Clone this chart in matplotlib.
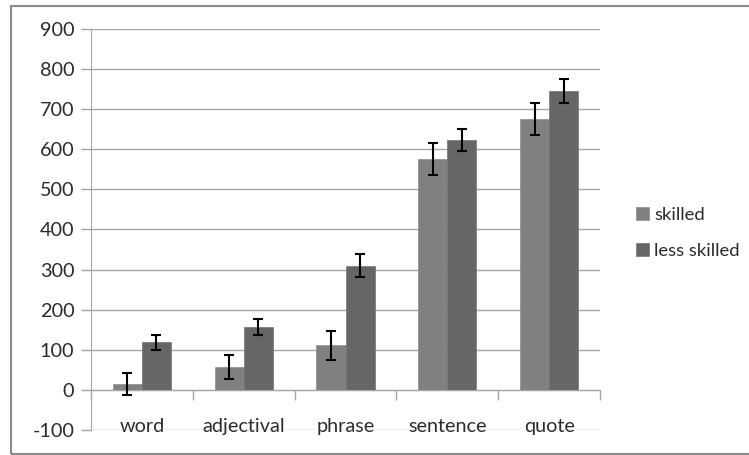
import matplotlib.pyplot as plt
import numpy as np
from matplotlib.patches import Rectangle

categories = ['word', 'adjectival', 'phrase', 'sentence', 'quote']
skilled = [15, 57, 111, 576, 675]
skilled_err = [27, 29, 37, 39, 40]
less_skilled = [119, 157, 310, 623, 746]
less_skilled_err = [19, 19, 29, 27, 30]

plt.rcParams['font.family'] = ['Lato', 'DejaVu Sans']
plt.rcParams['axes.unicode_minus'] = False

fig = plt.figure(figsize=(7.49, 4.55), dpi=100)
ax = fig.add_axes([91 / 749, 25 / 455, 509 / 749, 401 / 455])

x = np.arange(len(categories)) + 0.5
w = 0.285
grey = '#a6a6a6'
txt = '#2b2b2b'
ax.bar(x - w / 2, skilled, w, color='#808080', edgecolor='#8c8c8c',
       linewidth=0.5, label='skilled', zorder=2)
ax.bar(x + w / 2, less_skilled, w, color='#666666', edgecolor='#737373',
       linewidth=0.5, label='less skilled', zorder=2)
ax.errorbar(x - w / 2, skilled, yerr=skilled_err, fmt='none', ecolor='black',
            elinewidth=1.5, capsize=3.5, capthick=1.5, zorder=3)
ax.errorbar(x + w / 2, less_skilled, yerr=less_skilled_err, fmt='none',
            ecolor='black', elinewidth=1.5, capsize=3.5, capthick=1.5, zorder=3)

ax.set_xlim(0, 5)
ax.set_ylim(-100, 900)
ax.set_yticks(np.arange(-100, 901, 100))
ax.yaxis.grid(True, color=grey, linewidth=1)
ax.set_axisbelow(True)

for s in ['top', 'right']:
    ax.spines[s].set_visible(False)
ax.spines['left'].set_color(grey)
ax.spines['bottom'].set_position(('data', 0))
ax.spines['bottom'].set_color(grey)

ax.tick_params(axis='y', colors=grey, labelcolor=txt, labelsize=14.3,
               length=7, width=1, pad=5)
ax.set_xticks(x)
ax.set_xticklabels(categories)
ax.set_xticks(np.arange(0, 6), minor=True)
ax.tick_params(axis='x', which='major', length=0, pad=20, labelsize=14.3,
               labelcolor=txt)
ax.tick_params(axis='x', which='minor', length=7, width=1, colors=grey,
               direction='out')

fig.legend(loc='center left', bbox_to_anchor=(619 / 749, 0.488), frameon=False,
           fontsize=13.3, handlelength=0.7, handleheight=0.7, handletextpad=0.3,
           labelspacing=1.1, labelcolor=txt)

fig.patches.append(Rectangle((11 / 749, 1 / 455), 1.2, 448 / 455,
                             transform=fig.transFigure, fill=False,
                             edgecolor='#8a8a8a', linewidth=1.5))

fig.savefig('out.png', dpi=100)
